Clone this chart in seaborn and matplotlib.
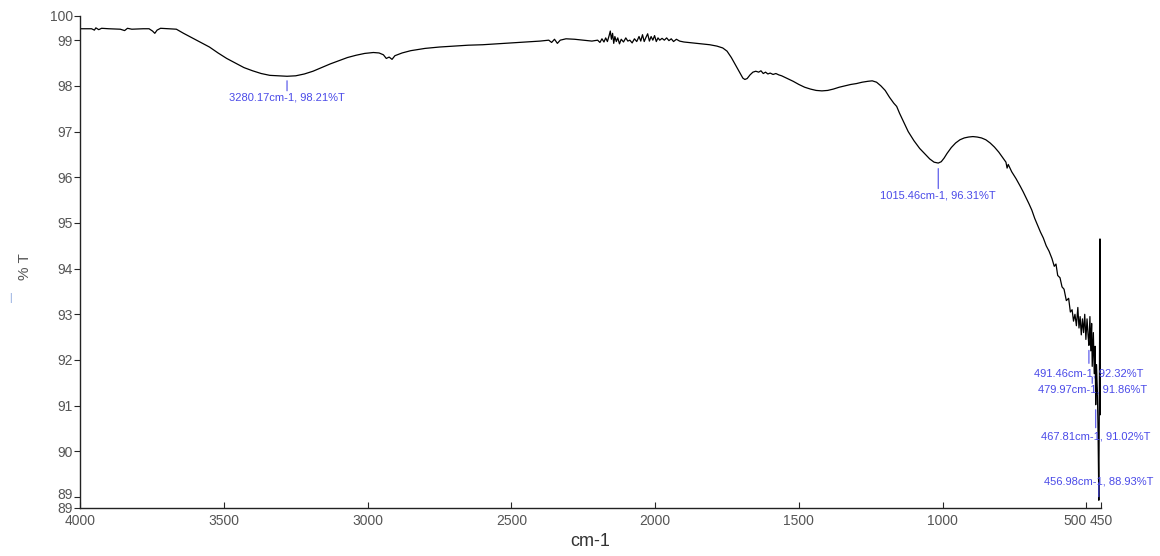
import numpy as np
import pandas as pd
import seaborn as sns
import matplotlib.pyplot as plt
from matplotlib.transforms import ScaledTranslation

# FTIR spectrum (wavenumber in cm-1, transmittance in %T)
wavenumber = [
    4000, 3960, 3950, 3945, 3935, 3925, 3900, 3860, 3845, 3835, 3820, 3780, 3760, 3748, 3740,
    3732, 3720, 3690, 3665, 3640, 3610, 3580, 3550, 3520, 3490, 3460, 3430, 3400, 3370, 3340,
    3310, 3280.17, 3250, 3220, 3190, 3160, 3130, 3100, 3070, 3040, 3010, 2980, 2960, 2945, 2935,
    2925, 2915, 2905, 2880, 2850, 2800, 2750, 2700, 2650, 2600, 2550, 2500, 2450, 2400, 2370,
    2360, 2350, 2340, 2330, 2310, 2280, 2250, 2220, 2200, 2192, 2185, 2178, 2172, 2166, 2160,
    2156, 2152, 2148, 2144, 2140, 2135, 2130, 2124, 2118, 2110, 2102, 2095, 2088, 2080, 2072,
    2064, 2056, 2050, 2044, 2038, 2032, 2026, 2020, 2014, 2008, 2002, 1996, 1990, 1984, 1976,
    1968, 1960, 1952, 1944, 1936, 1926, 1915, 1900, 1870, 1840, 1810, 1785, 1765, 1750, 1735,
    1720, 1705, 1695, 1688, 1680, 1670, 1660, 1650, 1640, 1632, 1624, 1616, 1608, 1600, 1590,
    1580, 1570, 1560, 1540, 1520, 1500, 1480, 1460, 1440, 1420, 1400, 1380, 1360, 1340, 1320,
    1300, 1280, 1260, 1245, 1230, 1215, 1200, 1185, 1170, 1160, 1150, 1135, 1120, 1100, 1080,
    1060, 1045, 1030, 1015.46, 1005, 995, 985, 970, 955, 940, 925, 910, 895, 880, 865,
    850, 835, 820, 805, 790, 780, 776, 772, 760, 745, 730, 720, 710, 700, 690,
    680, 670, 660, 650, 640, 630, 620, 612, 606, 600, 592, 585, 578, 570, 562,
    556, 550, 545, 540, 535, 530, 526, 522, 518, 514, 510, 506, 502, 498, 494,
    491.46, 488, 485, 482, 479.97, 476, 473, 470, 467.81, 465, 462, 460, 456.98, 455, 453,
    452, 451, 450,
]
transmittance = [
    99.25, 99.25, 99.22, 99.27, 99.23, 99.26, 99.25, 99.24, 99.21, 99.26, 99.24, 99.25, 99.25, 99.20, 99.15,
    99.22, 99.26, 99.25, 99.24, 99.15, 99.05, 98.95, 98.85, 98.72, 98.60, 98.50, 98.40, 98.33, 98.27, 98.23,
    98.22, 98.21, 98.22, 98.26, 98.32, 98.40, 98.48, 98.55, 98.62, 98.67, 98.71, 98.73, 98.72, 98.68, 98.60,
    98.63, 98.58, 98.66, 98.72, 98.77, 98.82, 98.85, 98.87, 98.89, 98.90, 98.92, 98.94, 98.96, 98.98, 99.00,
    98.95, 99.02, 98.93, 99.00, 99.03, 99.02, 99.00, 98.98, 99.00, 98.95, 99.03, 98.96, 99.05, 98.97, 99.10,
    99.20, 99.02, 99.15, 98.93, 99.08, 98.97, 99.05, 98.92, 99.02, 98.96, 99.05, 98.98, 99.00, 98.94, 99.03,
    98.97, 99.08, 98.98, 99.12, 98.97, 99.06, 99.14, 98.98, 99.08, 99.00, 99.10, 98.97, 99.05, 99.00, 99.04,
    99.00, 99.05, 98.99, 99.03, 98.97, 99.02, 98.98, 98.96, 98.94, 98.92, 98.90, 98.87, 98.83, 98.76, 98.62,
    98.45, 98.28, 98.17, 98.14, 98.16, 98.24, 98.30, 98.32, 98.30, 98.33, 98.27, 98.30, 98.26, 98.28, 98.25,
    98.27, 98.24, 98.22, 98.16, 98.10, 98.03, 97.97, 97.93, 97.90, 97.89, 97.90, 97.93, 97.97, 98.00, 98.03,
    98.05, 98.08, 98.10, 98.11, 98.08, 98.00, 97.90, 97.75, 97.62, 97.55, 97.40, 97.20, 97.00, 96.80, 96.63,
    96.50, 96.40, 96.33, 96.31, 96.34, 96.42, 96.52, 96.65, 96.75, 96.82, 96.86, 96.88, 96.89, 96.88, 96.86,
    96.82, 96.75, 96.66, 96.55, 96.42, 96.33, 96.20, 96.28, 96.12, 95.97, 95.80, 95.68, 95.55, 95.42, 95.28,
    95.10, 94.95, 94.80, 94.67, 94.50, 94.38, 94.22, 94.05, 94.10, 93.85, 93.80, 93.60, 93.55, 93.30, 93.35,
    93.05, 93.10, 92.85, 93.00, 92.75, 93.15, 92.70, 92.95, 92.55, 92.90, 92.60, 93.00, 92.45, 92.90, 92.50,
    92.32, 92.95, 92.20, 92.80, 91.86, 92.60, 91.70, 92.30, 91.02, 91.90, 91.30, 90.60, 88.93, 91.50, 94.65,
    90.80, 93.20, 94.10,
]

# labelled peaks
peak_wn = [3280.17, 1015.46, 491.46, 479.97, 467.81, 456.98]
peak_t = [98.21, 96.31, 92.32, 91.86, 91.02, 88.93]
# pixel offsets below each peak: line start, line end, label centre (negative = above)
peak_offsets = [(4.5, 14.5, 21.5), (5.5, 25.5, 32.5), (5, 18, 28),
                (11, 17, 23), (5, 23, 32), (-3.5, -17.5, -18.5)]

x_ticks = [4000, 3500, 3000, 2500, 2000, 1500, 1000, 500, 450]
y_lo, y_hi = 88.76, 99.53
y_ticks = [y_lo, 89, 90, 91, 92, 93, 94, 95, 96, 97, 98, 99, y_hi]
y_ticklabels = ['89', '89', '90', '91', '92', '93', '94', '95', '96', '97', '98', '99', '100']

sns.set_style('ticks')
plt.rcParams['font.family'] = ['Liberation Sans', 'DejaVu Sans']

blue = '#4a4ae8'
grey = '#555555'

fig = plt.figure(figsize=(11.6, 5.56), dpi=100)
ax = fig.add_axes([0.069, 0.0863, 0.880, 0.885])

df = pd.DataFrame({'cm-1': wavenumber, '%T': transmittance})
sns.lineplot(data=df, x='cm-1', y='%T', ax=ax, color='black', linewidth=0.9,
             estimator=None, sort=False)

ax.set_xlim(4000, 450)
ax.set_ylim(y_lo, y_hi)
ax.set_xticks(x_ticks, labels=[str(t) for t in x_ticks])
ax.set_yticks(y_ticks, labels=y_ticklabels)
ax.tick_params(axis='x', direction='in', length=4, width=0.8, pad=4.5,
               labelsize=10, labelcolor=grey)
ax.tick_params(axis='y', direction='out', length=4, width=0.8, pad=1,
               labelsize=10, labelcolor=grey)
sns.despine(ax=ax)
for side in ['left', 'bottom']:
    ax.spines[side].set_color('#222222')
    ax.spines[side].set_linewidth(1.0)

# "500" and "450" sit side by side, like the instrument software prints them
xlabels = ax.get_xticklabels()
xlabels[-2].set_horizontalalignment('right')
# keep the two "89" labels at the bottom from sitting on each other
ylabels = ax.get_yticklabels()
ylabels[0].set_transform(ylabels[0].get_transform()
                         + ScaledTranslation(0, 1 / 100, fig.dpi_scale_trans))
ylabels[1].set_transform(ylabels[1].get_transform()
                         + ScaledTranslation(0, 4 / 100, fig.dpi_scale_trans))

ax.set_xlabel('cm-1', fontsize=13, color='#333333')
ax.xaxis.set_label_coords(0.5, -0.05)
ax.set_ylabel('% T', fontsize=11, color=grey)
ax.yaxis.set_label_coords(-0.047, 0.49)
fig.text(0.009, 0.464, '|', color='#7a9ad8', fontsize=7, ha='center', va='center')

px = 0.72  # points per pixel at 100 dpi
for wn, t, (a, b, c) in zip(peak_wn, peak_t, peak_offsets):
    ax.annotate('', xy=(wn, t), xytext=(0, -b * px), textcoords='offset points',
                arrowprops=dict(arrowstyle='-', color=blue, lw=0.8,
                                shrinkA=0, shrinkB=a * px))
    ax.annotate(f'{wn:.2f}cm-1, {t:.2f}%T', xy=(wn, t), xytext=(0, -c * px),
                textcoords='offset points', ha='center', va='center',
                fontsize=8, color=blue, annotation_clip=False)

fig.savefig('out.png', dpi=100)
